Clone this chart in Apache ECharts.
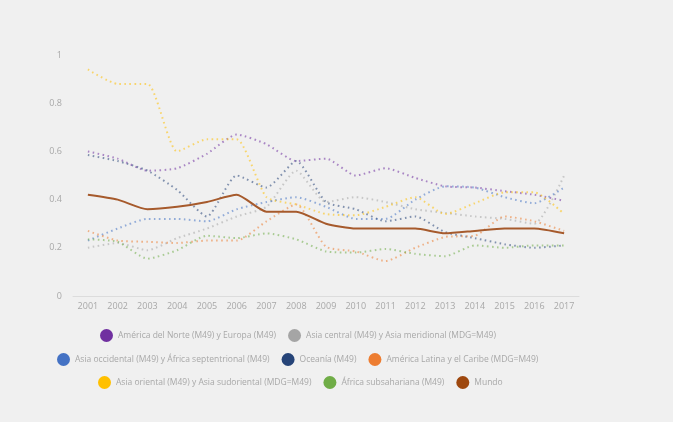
<!DOCTYPE html>
<html>
<head>
<meta charset="utf-8">
<script src="https://cdn.jsdelivr.net/npm/echarts@6/dist/echarts.min.js"></script>
<style>
  html, body {margin: 0; padding: 0; background: #f0f0f0;}
  #chart {width: 673px; height: 422px;}
</style>
</head>
<body>
<div id="chart"></div>
<script>
// Values, one array per region.
const years = ["2001", "2002", "2003", "2004", "2005", "2006", "2007", "2008", "2009",
  "2010", "2011", "2012", "2013", "2014", "2015", "2016", "2017"]
const yTicks = [0, 0.2, 0.4, 0.6, 0.8, 1]

const norteEuropa = [0.60, 0.57, 0.52, 0.53, 0.59, 0.67, 0.63, 0.56, 0.57, 0.50, 0.53, 0.49, 0.455, 0.45, 0.435, 0.42, 0.395]
const asiaCentral = [0.20, 0.22, 0.19, 0.24, 0.28, 0.33, 0.37, 0.52, 0.39, 0.41, 0.39, 0.36, 0.345, 0.33, 0.32, 0.30, 0.50]
const asiaOccidental = [0.23, 0.28, 0.32, 0.32, 0.31, 0.36, 0.39, 0.41, 0.37, 0.32, 0.32, 0.40, 0.455, 0.45, 0.41, 0.385, 0.45]
const oceania = [0.585, 0.56, 0.52, 0.44, 0.33, 0.50, 0.45, 0.56, 0.39, 0.36, 0.31, 0.33, 0.265, 0.24, 0.215, 0.20, 0.21]
const americaLatina = [0.27, 0.23, 0.225, 0.22, 0.23, 0.23, 0.31, 0.38, 0.205, 0.185, 0.145, 0.20, 0.245, 0.25, 0.33, 0.31, 0.27]
const asiaOriental = [0.94, 0.88, 0.88, 0.60, 0.65, 0.65, 0.41, 0.38, 0.34, 0.335, 0.37, 0.41, 0.34, 0.385, 0.43, 0.43, 0.34]
const africaSub = [0.235, 0.225, 0.155, 0.19, 0.25, 0.24, 0.26, 0.235, 0.185, 0.18, 0.195, 0.175, 0.165, 0.21, 0.20, 0.21, 0.21]
const mundo = [0.42, 0.40, 0.36, 0.37, 0.39, 0.42, 0.35, 0.35, 0.30, 0.28, 0.28, 0.28, 0.26, 0.27, 0.28, 0.28, 0.26]

const NAMES = {
  norteEuropa: "América del Norte (M49) y Europa (M49)",
  asiaCentral: "Asia central (M49) y Asia meridional (MDG=M49)",
  asiaOccidental: "Asia occidental (M49) y África septentrional (M49)",
  oceania: "Oceanía (M49)",
  americaLatina: "América Latina y el Caribe (MDG=M49)",
  asiaOriental: "Asia oriental (M49) y Asia sudoriental (MDG=M49)",
  africaSub: "África subsahariana (M49)",
  mundo: "Mundo",
}

const FONT = "Open Sans"
const TEXT = "#a8a8a8"

function dotted(name, data, color) {
  return {
    name,
    type: "line",
    data,
    smooth: 0.2,
    symbol: "none",
    itemStyle: {color},
    lineStyle: {color, width: 2, type: [1.6, 3.4], opacity: 0.55},
    z: 2,
  }
}

function legendRow(left, top, names) {
  return {
    left,
    top,
    data: names,
    icon: "circle",
    itemWidth: 13,
    itemHeight: 13,
    itemGap: 12,
    textStyle: {color: TEXT, fontFamily: FONT, fontSize: 8.5},
  }
}

const option = {
  backgroundColor: "#f0f0f0",
  animation: false,
  grid: {left: 73, right: 94, top: 55, bottom: 126},
  legend: [
    legendRow(95, 324, [NAMES.norteEuropa, NAMES.asiaCentral]),
    legendRow(52, 348, [NAMES.asiaOccidental, NAMES.oceania, NAMES.americaLatina]),
    legendRow(93, 371, [NAMES.asiaOriental, NAMES.africaSub, NAMES.mundo]),
  ],
  xAxis: {
    type: "category",
    data: years,
    boundaryGap: true,
    axisTick: {show: false},
    axisLine: {lineStyle: {color: "#dcdcdc", width: 1}},
    axisLabel: {color: TEXT, fontFamily: FONT, fontSize: 9, margin: 6},
  },
  yAxis: {
    type: "value",
    min: yTicks[0],
    max: yTicks[yTicks.length - 1],
    interval: 0.2,
    axisLine: {show: false},
    axisTick: {show: false},
    splitLine: {show: false},
    axisLabel: {color: TEXT, fontFamily: FONT, fontSize: 9, margin: 11},
  },
  series: [
    dotted(NAMES.norteEuropa, norteEuropa, "#7030a0"),
    dotted(NAMES.asiaCentral, asiaCentral, "#a5a5a5"),
    dotted(NAMES.asiaOccidental, asiaOccidental, "#4472c4"),
    dotted(NAMES.oceania, oceania, "#264478"),
    dotted(NAMES.americaLatina, americaLatina, "#ed7d31"),
    dotted(NAMES.asiaOriental, asiaOriental, "#ffc000"),
    dotted(NAMES.africaSub, africaSub, "#70ad47"),
    {
      name: NAMES.mundo,
      type: "line",
      data: mundo,
      smooth: 0.2,
      symbol: "none",
      itemStyle: {color: "#9e480e"},
      lineStyle: {color: "#a65a2c", width: 2},
      z: 3,
    },
  ],
}

const chart = echarts.init(document.getElementById("chart"), null, {renderer: "canvas"})
chart.setOption(option)
</script>
</body>
</html>
